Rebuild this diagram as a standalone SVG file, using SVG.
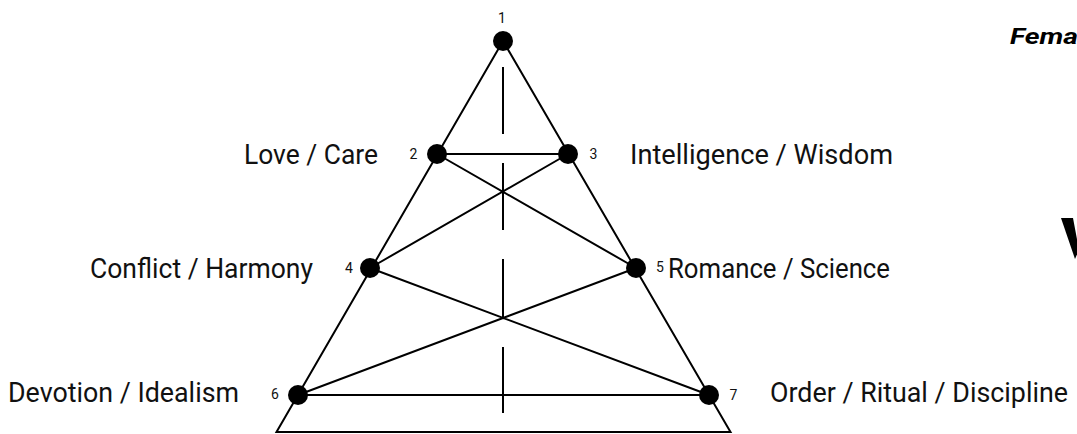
<svg xmlns="http://www.w3.org/2000/svg" width="1077" height="434" viewBox="0 0 1077 434">
<style>
.ln{stroke:#000;stroke-width:2;fill:none;stroke-linecap:butt}
.nd{fill:#000}
.lbl{font-family:Roboto,"Liberation Sans",sans-serif;font-size:28px;fill:#111}
.num{font-family:Roboto,"Liberation Sans",sans-serif;font-size:14px;fill:#111}
.ttl{font-family:Roboto,"Liberation Sans",sans-serif;font-size:22px;font-weight:bold;font-style:italic;fill:#000}
</style>
<rect width="1077" height="434" fill="#fff"/>
<g id="connectors">
<path class="ln" d="M503,41 L276.5,432 L730.5,432 Z"/>
<path class="ln" d="M437,154 L568,154 M437,154 L636,268 M568,154 L370,268 M370,268 L709,395 M636,268 L298,395 M298,395 L709,395"/>
<path class="ln" d="M503,67 V134 M503,163 V230 M503,259 V317 M503,347 V413"/>
</g>
<g id="node1"><circle class="nd" cx="503" cy="41" r="10"/><text class="num" x="502" y="23" text-anchor="middle">1</text></g>
<g id="node2"><circle class="nd" cx="437" cy="154" r="10"/><text class="num" x="413.5" y="158.5" text-anchor="middle">2</text><text class="lbl" x="244" y="164" textLength="134" lengthAdjust="spacingAndGlyphs">Love / Care</text></g>
<g id="node3"><circle class="nd" cx="568" cy="154" r="10"/><text class="num" x="593.5" y="158.5" text-anchor="middle">3</text><text class="lbl" x="630" y="164" textLength="263" lengthAdjust="spacingAndGlyphs">Intelligence / Wisdom</text></g>
<g id="node4"><circle class="nd" cx="370" cy="268" r="10"/><text class="num" x="349" y="272.5" text-anchor="middle">4</text><text class="lbl" x="90" y="278" textLength="223" lengthAdjust="spacingAndGlyphs">Conflict / Harmony</text></g>
<g id="node5"><circle class="nd" cx="636" cy="268" r="10"/><text class="num" x="660" y="272" text-anchor="middle">5</text><text class="lbl" x="668" y="278" textLength="222" lengthAdjust="spacingAndGlyphs">Romance / Science</text></g>
<g id="node6"><circle class="nd" cx="298" cy="395" r="10"/><text class="num" x="275" y="399" text-anchor="middle">6</text><text class="lbl" x="8" y="402" textLength="231" lengthAdjust="spacingAndGlyphs">Devotion / Idealism</text></g>
<g id="node7"><circle class="nd" cx="709" cy="395" r="10"/><text class="num" x="733.5" y="399.5" text-anchor="middle">7</text><text class="lbl" x="770" y="402" textLength="298" lengthAdjust="spacingAndGlyphs">Order / Ritual / Discipline</text></g>
<g id="title"><text class="ttl" x="1010" y="44" textLength="68" lengthAdjust="spacingAndGlyphs">Fema</text></g>
<polygon class="nd" points="1061,218 1073,218 1079,250 1075,259"/>
</svg>
